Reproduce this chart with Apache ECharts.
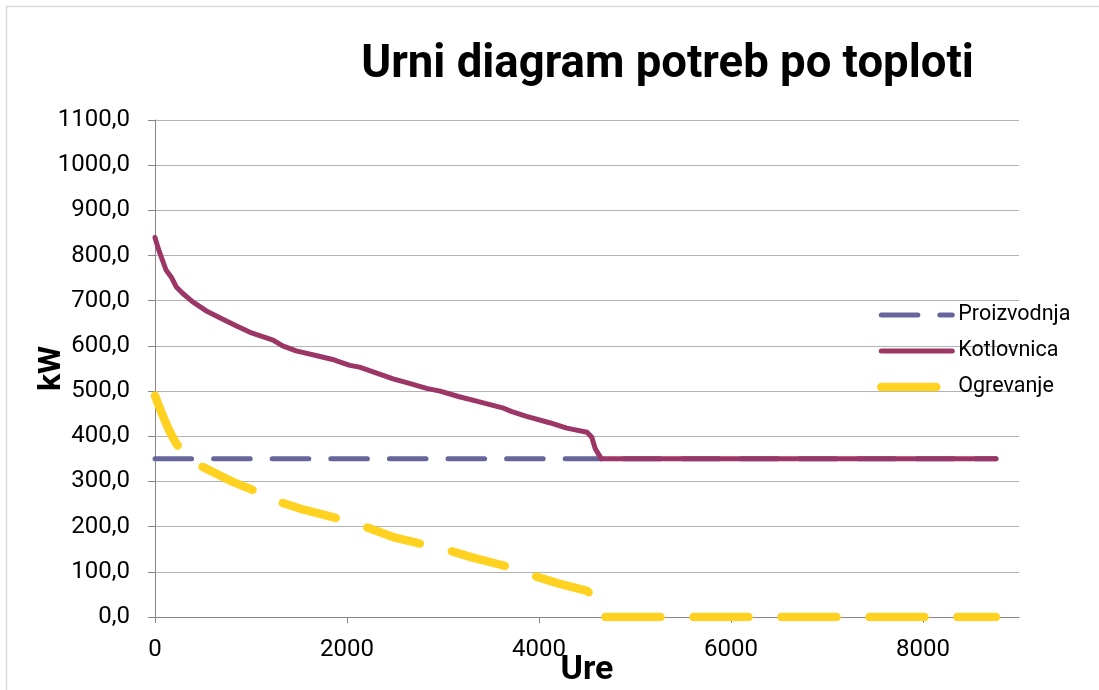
<!DOCTYPE html>
<html>
<head>
<meta charset="utf-8">
<script src="https://cdn.jsdelivr.net/npm/echarts@6/dist/echarts.min.js"></script>
<style>
  html, body { margin: 0; padding: 0; background: #ffffff; }
  #chart { width: 1099px; height: 690px; }
</style>
</head>
<body>
<div id="chart"></div>
<script>
// Hourly heat demand duration curves (hours of the year vs kW)
const chartTitle = 'Urni diagram potreb po toploti';
const xAxisName = 'Ure';
const yAxisName = 'kW';
const seriesNames = ['Proizvodnja', 'Kotlovnica', 'Ogrevanje'];
const xTickValues = [0, 2000, 4000, 6000, 8000];

// Proizvodnja: constant production
const proizvodnjaHours = [0, 8760];
const proizvodnjaKW = [350, 350];

// Kotlovnica: boiler house load
const kotlovnicaHours = [0, 30, 65, 115, 170, 220, 290, 390, 530, 670, 850, 990, 1090, 1230, 1330, 1470, 1710, 1850, 1930, 2030, 2130, 2310, 2480, 2650, 2830, 2970, 3160, 3380, 3620, 3710, 3870, 4110, 4290, 4500, 4550, 4585, 4650, 8760];
const kotlovnicaKW = [840, 818, 797, 768, 752, 731, 716, 698, 678, 663, 644, 630, 623, 613, 600, 589, 577, 570, 564, 557, 553, 540, 527, 517, 506, 500, 488, 476, 463, 455, 444, 430, 418, 409, 398, 373, 350, 350];

// Ogrevanje: space heating load
const ogrevanjeHours = [0, 45, 100, 150, 200, 230, 290, 390, 460, 640, 810, 1020, 1290, 1540, 1890, 2170, 2480, 2730, 3050, 3320, 3630, 3920, 4190, 4500, 4550, 4585, 4640, 8760];
const ogrevanjeKW = [490, 465, 436, 412, 392, 381, 366, 348, 336, 317, 299, 281, 255, 238, 219, 201, 177, 164, 148, 131, 114, 93, 75, 58, 48, 23, 0, 0];

const pairs = (xs, ys) => xs.map((x, i) => [x, ys[i]]);

const FONT = 'Roboto';
const chart = echarts.init(document.getElementById('chart'), null, { renderer: 'canvas' });

chart.setOption({
  animation: false,
  backgroundColor: '#ffffff',
  graphic: [{
    type: 'rect',
    silent: true,
    z: -10,
    shape: { x: 6.5, y: 6.5, width: 1200, height: 1200 },
    style: { fill: null, stroke: '#d9d9d9', lineWidth: 1.5 }
  }],
  title: {
    text: chartTitle,
    left: 667.5,
    top: 43,
    padding: 0,
    textAlign: 'center',
    textStyle: { fontFamily: FONT, fontWeight: 'bold', fontSize: 45.5, color: '#000000' }
  },
  legend: {
    orient: 'vertical',
    left: 877,
    top: 304,
    itemWidth: 71,
    itemHeight: 22,
    itemGap: 14,
    padding: 0,
    data: seriesNames,
    itemStyle: { opacity: 0, borderWidth: 0 },
    lineStyle: { width: 'inherit' },
    textStyle: { fontFamily: FONT, fontSize: 21.5, color: '#000000', padding: [0, 0, 0, 1] }
  },
  grid: { left: 155, right: 80, top: 120, bottom: 73, containLabel: false, outerBoundsMode: 'none' },
  xAxis: {
    type: 'value',
    min: 0,
    max: 9000,
    interval: 2000,
    name: xAxisName,
    nameLocation: 'middle',
    nameMoveOverlap: false,
    nameGap: 36,
    nameTextStyle: { fontFamily: FONT, fontWeight: 'bold', fontSize: 34, color: '#000000' },
    axisLine: { show: true, onZero: true, lineStyle: { color: '#868686', width: 1 } },
    axisTick: { show: true, length: 6, customValues: xTickValues, lineStyle: { color: '#868686' } },
    axisLabel: {
      customValues: xTickValues,
      margin: 21,
      fontFamily: FONT, fontSize: 24, color: '#000000',
      formatter: v => String(v)
    },
    splitLine: { show: false }
  },
  yAxis: {
    type: 'value',
    min: 0,
    max: 1100,
    interval: 100,
    name: yAxisName,
    nameLocation: 'middle',
    nameMoveOverlap: false,
    nameGap: 87,
    nameTextStyle: { fontFamily: FONT, fontWeight: 'bold', fontSize: 32, color: '#000000' },
    axisLine: { show: true, lineStyle: { color: '#868686', width: 1 } },
    axisTick: { show: true, length: 7, lineStyle: { color: '#868686' } },
    axisLabel: {
      margin: 25,
      fontFamily: FONT, fontSize: 24, color: '#000000',
      formatter: v => v.toFixed(1).replace('.', ',')
    },
    splitLine: { show: true, lineStyle: { color: '#b3b3b3', width: 1 } }
  },
  series: [
    {
      name: seriesNames[0],
      type: 'line',
      data: pairs(proizvodnjaHours, proizvodnjaKW),
      showSymbol: false,
      symbol: 'none',
      color: '#66669c',
      lineStyle: { color: '#66669c', width: 5, type: [36.6, 22], cap: 'round', join: 'round' },
      z: 2
    },
    {
      name: seriesNames[1],
      type: 'line',
      data: pairs(kotlovnicaHours, kotlovnicaKW),
      showSymbol: false,
      symbol: 'none',
      color: '#9b3667',
      lineStyle: { color: '#9b3667', width: 5, cap: 'round', join: 'round' },
      z: 3
    },
    {
      name: seriesNames[2],
      type: 'line',
      data: pairs(ogrevanjeHours, ogrevanjeKW),
      showSymbol: false,
      symbol: 'none',
      color: '#ffd221',
      lineStyle: { color: '#ffd221', width: 8.5, type: [55, 33], cap: 'round', join: 'round' },
      z: 4
    }
  ]
});
</script>
</body>
</html>
